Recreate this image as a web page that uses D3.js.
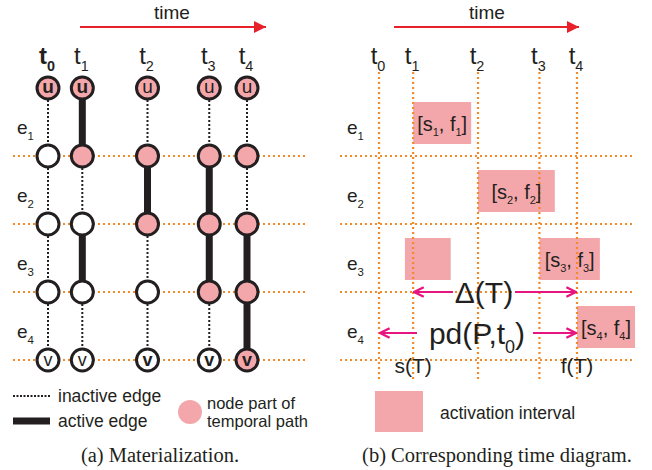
<!DOCTYPE html>
<html lang="en">
<head>
<meta charset="utf-8">
<title>Materialization and time diagram</title>
<script src="https://cdn.jsdelivr.net/npm/d3@7"></script>
<style>
    body { margin: 0; background: white; }
    svg { display: block; }
    text { font-family: "Liberation Sans", Arial, sans-serif; fill: #231f20; }
    .caption { font-family: "Liberation Serif", "Times New Roman", serif; font-size: 20.5px; }
</style>
</head>
<body>
<script>
// data
var times = [0, 10, 29, 47, 58];              // t0 .. t4
var timeNames = ["0", "1", "2", "3", "4"];
var edgeNames = ["1", "2", "3", "4"];
// activeEdges[edge][time] : 1 = active edge between node rows
var activeEdges = [
    [0, 1, 0, 0, 0],
    [0, 0, 1, 1, 0],
    [0, 1, 0, 1, 1],
    [0, 0, 0, 0, 1]
];
// pathNodes[row][time] : 1 = node part of temporal path (row 0 = u, row 4 = v)
var pathNodes = [
    [1, 1, 1, 1, 1],
    [0, 1, 1, 1, 1],
    [0, 0, 1, 1, 1],
    [0, 0, 0, 1, 1],
    [0, 0, 0, 0, 1]
];
var boldLetter = [
    [1, 1, 0, 0, 0],
    [0, 0, 0, 0, 0],
    [0, 0, 0, 0, 0],
    [0, 0, 0, 0, 0],
    [0, 0, 1, 1, 1]
];
// activation intervals of the right panel
var intervalEdge  = [0, 1, 2, 2, 3];
var intervalStart = [10, 29, 7.6, 47, 58];
var intervalEnd   = [27, 51.5, 21, 64.7, 75];
var intervalLabel = ["1", "2", null, "3", "4"];

var w = 652, h = 470;
var pink = "#f4a7aa", orange = "#f28a2a", magenta = "#e6157f", red = "#e8202a", ink = "#231f20";

var svg = d3.select("body").append("svg")
    .attr("width", w)
    .attr("height", h);

var defs = svg.append("defs");
defs.append("marker")
    .attr("id", "redhead")
    .attr("viewBox", "0 0 10 10")
    .attr("refX", 10).attr("refY", 5)
    .attr("markerWidth", 12).attr("markerHeight", 12)
    .attr("markerUnits", "userSpaceOnUse")
    .attr("orient", "auto")
    .append("path").attr("d", "M0,0L10,5L0,10Z").attr("fill", red);
defs.append("marker")
    .attr("id", "maghead")
    .attr("viewBox", "0 0 10 10")
    .attr("refX", 9).attr("refY", 5)
    .attr("markerWidth", 12).attr("markerHeight", 12)
    .attr("markerUnits", "userSpaceOnUse")
    .attr("orient", "auto")
    .append("path").attr("d", "M1,1L9,5L1,9").attr("fill", "none")
    .attr("stroke", magenta).attr("stroke-width", 2);

// scales
var xL = d3.scaleLinear().domain([0, 58]).range([48, 247]);
var xR = d3.scaleLinear().domain([0, 58]).range([379, 577]);
var yRow = d3.scaleLinear().domain([0, 4]).range([88, 360]);
var edgeMid = function(i) { return (yRow(i) + yRow(i + 1)) / 2; };

// subscripted text helper
function subText(g, x, y, base, sub, size, anchor, weight) {
    var t = g.append("text")
        .attr("x", x).attr("y", y)
        .attr("text-anchor", anchor || "start")
        .attr("font-size", size)
        .attr("font-weight", weight || "normal");
    t.append("tspan").text(base);
    t.append("tspan").attr("dy", size * 0.3).attr("font-size", size * 0.6).text(sub);
    return t;
}

function timeArrow(x0, x1, cx) {
    svg.append("text").attr("x", cx).attr("y", 19).attr("text-anchor", "middle")
        .attr("font-size", 19).text("time");
    svg.append("line").attr("x1", x0).attr("x2", x1).attr("y1", 27).attr("y2", 27)
        .attr("stroke", red).attr("stroke-width", 2).attr("marker-end", "url(#redhead)");
}

// ---------- left panel: materialization ----------
var left = svg.append("g");
timeArrow(80, 266, 172);

times.forEach(function(t, j) {
    subText(left, xL(t) - 1, 64, "t", timeNames[j], 24, "middle", j === 0 ? "bold" : "normal");
});

// orange row lines
d3.range(1, 5).forEach(function(r) {
    left.append("line").attr("x1", 13).attr("x2", 307)
        .attr("y1", yRow(r)).attr("y2", yRow(r))
        .attr("stroke", orange).attr("stroke-width", 2.2).attr("stroke-dasharray", "2,3");
});

edgeNames.forEach(function(e, i) {
    subText(left, 17, edgeMid(i) + 12, "e", e, 19);
});

// edges
activeEdges.forEach(function(row, i) {
    row.forEach(function(a, j) {
        left.append("line")
            .attr("x1", xL(times[j])).attr("x2", xL(times[j]))
            .attr("y1", yRow(i)).attr("y2", yRow(i + 1))
            .attr("stroke", ink)
            .attr("stroke-width", a ? 7 : 2)
            .attr("stroke-dasharray", a ? null : "2,2");
    });
});

// nodes
pathNodes.forEach(function(row, r) {
    row.forEach(function(p, j) {
        left.append("circle")
            .attr("cx", xL(times[j])).attr("cy", yRow(r)).attr("r", 11)
            .attr("fill", p ? pink : "white")
            .attr("stroke", ink).attr("stroke-width", 3);
        if (r === 0 || r === 4) {
            left.append("text")
                .attr("x", xL(times[j])).attr("y", yRow(r) + (r === 0 ? 5 : 6))
                .attr("text-anchor", "middle")
                .attr("font-size", r === 0 ? 19 : 18)
                .attr("font-weight", boldLetter[r][j] ? "bold" : "normal")
                .text(r === 0 ? "u" : "v");
        }
    });
});

// legend
left.append("line").attr("x1", 13).attr("x2", 50).attr("y1", 396).attr("y2", 396)
    .attr("stroke", ink).attr("stroke-width", 2).attr("stroke-dasharray", "2,1.5");
left.append("text").attr("x", 58).attr("y", 402).attr("font-size", 17.5).text("inactive edge");
left.append("line").attr("x1", 13).attr("x2", 50).attr("y1", 421).attr("y2", 421)
    .attr("stroke", ink).attr("stroke-width", 7);
left.append("text").attr("x", 58).attr("y", 427).attr("font-size", 17.5).text("active edge");
left.append("circle").attr("cx", 190).attr("cy", 412).attr("r", 12).attr("fill", pink);
left.append("text").attr("x", 207).attr("y", 409).attr("font-size", 16.5).text("node part of");
left.append("text").attr("x", 207).attr("y", 427).attr("font-size", 16.5).text("temporal path");

left.append("text").attr("class", "caption").attr("x", 160).attr("y", 462)
    .attr("text-anchor", "middle").text("(a) Materialization.");

// ---------- right panel: time diagram ----------
var right = svg.append("g");
timeArrow(394, 579, 487);

times.forEach(function(t, j) {
    subText(right, xR(t) - 1, 64, "t", timeNames[j], 24, "middle");
});

// intervals (drawn under the grid)
intervalEdge.forEach(function(e, k) {
    right.append("rect")
        .attr("x", xR(intervalStart[k]))
        .attr("y", edgeMid(e) - 20)
        .attr("width", xR(intervalEnd[k]) - xR(intervalStart[k]))
        .attr("height", 42)
        .attr("fill", pink);
});

d3.range(1, 5).forEach(function(r) {
    right.append("line").attr("x1", 340).attr("x2", 633)
        .attr("y1", yRow(r)).attr("y2", yRow(r))
        .attr("stroke", orange).attr("stroke-width", 2.2).attr("stroke-dasharray", "2,3");
});
times.forEach(function(t) {
    right.append("line").attr("x1", xR(t)).attr("x2", xR(t))
        .attr("y1", 72).attr("y2", 381)
        .attr("stroke", orange).attr("stroke-width", 2.2).attr("stroke-dasharray", "2,3");
});

intervalEdge.forEach(function(e, k) {
    if (!intervalLabel[k]) return;
    var cx = (xR(intervalStart[k]) + xR(intervalEnd[k])) / 2;
    var t = right.append("text").attr("x", cx).attr("y", edgeMid(e) + 9)
        .attr("text-anchor", "middle").attr("font-size", 20);
    t.append("tspan").text("[s");
    t.append("tspan").attr("dy", 5).attr("font-size", 11).text(intervalLabel[k]);
    t.append("tspan").attr("dy", -5).text(", f");
    t.append("tspan").attr("dy", 5).attr("font-size", 11).text(intervalLabel[k]);
    t.append("tspan").attr("dy", -5).text("]");
});

edgeNames.forEach(function(e, i) {
    subText(right, 347, edgeMid(i) + 12, "e", e, 19);
});

// Δ(T) and pd(P,t0) arrows
function magArrow(x1, x2, y) {
    right.append("line").attr("x1", x1).attr("x2", x2).attr("y1", y).attr("y2", y)
        .attr("stroke", magenta).attr("stroke-width", 2).attr("marker-end", "url(#maghead)");
}
var yD = yRow(3), yP = 333;
magArrow(453, xR(times[1]) + 1, yD);
magArrow(515, xR(times[4]) - 1, yD);
right.append("text").attr("x", 484).attr("y", yD + 11).attr("text-anchor", "middle")
    .attr("font-size", 30).text("\u0394(T)");
magArrow(417, xR(times[0]) + 1, yP);
magArrow(533, xR(times[4]) - 1, yP);
subText(right, 477, yP + 11, "pd(P,t", "0", 30, "middle").append("tspan")
    .attr("dy", -9).attr("font-size", 30).text(")");

right.append("text").attr("x", xR(times[1])).attr("y", 373).attr("text-anchor", "middle")
    .attr("font-size", 21).text("s(T)");
right.append("text").attr("x", xR(times[4])).attr("y", 373).attr("text-anchor", "middle")
    .attr("font-size", 21).text("f(T)");

// legend
right.append("rect").attr("x", 375).attr("y", 391).attr("width", 48).attr("height", 41)
    .attr("fill", pink);
right.append("text").attr("x", 440).attr("y", 419).attr("font-size", 17.5)
    .text("activation interval");

right.append("text").attr("class", "caption").attr("x", 497).attr("y", 462)
    .attr("text-anchor", "middle").text("(b) Corresponding time diagram.");
</script>
</body>
</html>
